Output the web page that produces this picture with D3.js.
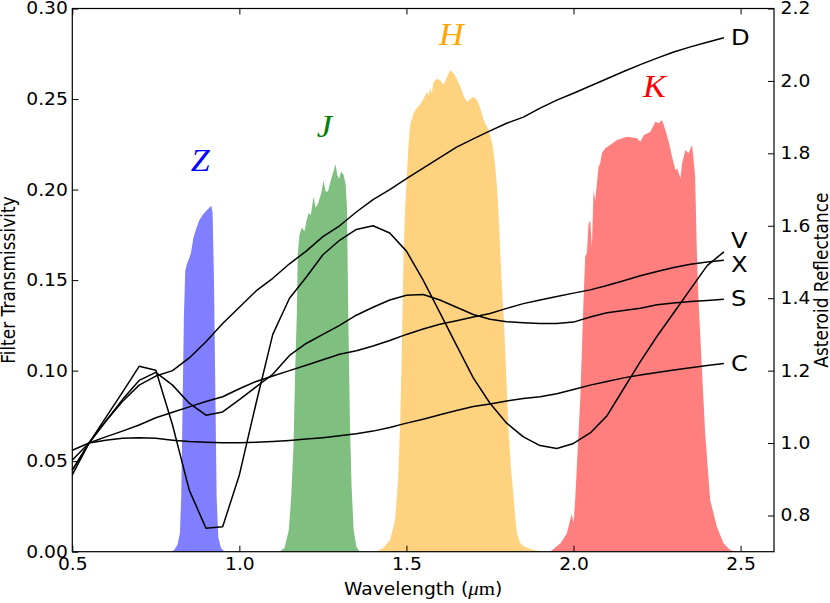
<!DOCTYPE html>
<html>
<head>
<meta charset="utf-8">
<script src="https://cdn.jsdelivr.net/npm/d3@7"></script>
<style>
  html, body { margin: 0; padding: 0; background: #fff; }
  #chart { width: 830px; height: 603px; }
  text { font-family: "DejaVu Sans", sans-serif; fill: #000; }
</style>
</head>
<body>
<div id="chart"></div>
<script>
// wavelength grid of the asteroid spectra (micron)
const wavelength = [0.50, 0.55, 0.60, 0.65, 0.70, 0.75, 0.80, 0.85, 0.90, 0.95,
  1.00, 1.05, 1.10, 1.15, 1.20, 1.25, 1.30, 1.35, 1.40, 1.45,
  1.50, 1.55, 1.60, 1.65, 1.70, 1.75, 1.80, 1.85, 1.90, 1.95,
  2.00, 2.05, 2.10, 2.15, 2.20, 2.25, 2.30, 2.35, 2.40, 2.45];

// reflectance of each taxonomic type, normalised near 0.55 micron
const reflD = [0.925, 1.00, 1.06, 1.115, 1.16, 1.185, 1.20, 1.235, 1.28, 1.33,
  1.375, 1.42, 1.455, 1.495, 1.53, 1.57, 1.60, 1.638, 1.672, 1.70,
  1.73, 1.759, 1.788, 1.817, 1.84, 1.862, 1.883, 1.90, 1.925, 1.947,
  1.966, 1.986, 2.006, 2.026, 2.045, 2.063, 2.08, 2.094, 2.107, 2.119];
const reflV = [0.912, 1.00, 1.07, 1.14, 1.212, 1.201, 1.05, 0.87, 0.765, 0.769,
  0.912, 1.11, 1.30, 1.40, 1.458, 1.52, 1.56, 1.59, 1.60, 1.58,
  1.53, 1.45, 1.36, 1.27, 1.18, 1.11, 1.055, 1.017, 0.993, 0.985,
  0.999, 1.028, 1.075, 1.15, 1.225, 1.295, 1.36, 1.425, 1.49, 1.528];
const reflX = [0.953, 1.00, 1.017, 1.033, 1.05, 1.07, 1.085, 1.10, 1.115, 1.128,
  1.15, 1.17, 1.185, 1.20, 1.215, 1.23, 1.245, 1.255, 1.268, 1.283,
  1.30, 1.315, 1.328, 1.338, 1.348, 1.358, 1.372, 1.385, 1.395, 1.405,
  1.414, 1.423, 1.435, 1.448, 1.462, 1.474, 1.485, 1.494, 1.50, 1.505];
const reflS = [0.925, 1.00, 1.06, 1.12, 1.173, 1.195, 1.16, 1.11, 1.077, 1.086,
  1.12, 1.155, 1.19, 1.242, 1.275, 1.30, 1.325, 1.353, 1.375, 1.395,
  1.408, 1.41, 1.395, 1.375, 1.355, 1.342, 1.335, 1.332, 1.330, 1.330,
  1.334, 1.348, 1.36, 1.366, 1.372, 1.382, 1.387, 1.391, 1.394, 1.397];
const reflC = [0.98, 1.00, 1.008, 1.013, 1.015, 1.013, 1.008, 1.004, 1.002, 1.001,
  1.001, 1.002, 1.004, 1.007, 1.011, 1.015, 1.02, 1.026, 1.033, 1.043,
  1.055, 1.066, 1.078, 1.09, 1.101, 1.108, 1.116, 1.123, 1.128, 1.136,
  1.148, 1.16, 1.17, 1.18, 1.188, 1.195, 1.202, 1.208, 1.214, 1.22];

const taxonNames = ["D", "V", "X", "S", "C"];
const taxonRefl = [reflD, reflV, reflX, reflS, reflC];

// filter transmission curves: [wavelength, transmissivity]
const filterZ = [[0.795, 0], [0.805, 0.001], [0.815, 0.004], [0.822, 0.010], [0.826, 0.03],
  [0.830, 0.08], [0.834, 0.13], [0.838, 0.155], [0.843, 0.159], [0.850, 0.162],
  [0.855, 0.165], [0.862, 0.173], [0.870, 0.178], [0.880, 0.183], [0.890, 0.186],
  [0.900, 0.188], [0.910, 0.190], [0.916, 0.191], [0.920, 0.187], [0.924, 0.15],
  [0.928, 0.09], [0.932, 0.03], [0.937, 0.008], [0.945, 0.002], [0.955, 0]];
const filterJ = [[1.120, 0], [1.135, 0.002], [1.148, 0.012], [1.155, 0.03], [1.162, 0.058],
  [1.167, 0.10], [1.172, 0.132], [1.175, 0.165], [1.180, 0.175], [1.187, 0.179],
  [1.195, 0.177], [1.200, 0.182], [1.207, 0.187], [1.214, 0.186], [1.222, 0.196],
  [1.228, 0.190], [1.235, 0.192], [1.245, 0.198], [1.252, 0.205], [1.258, 0.199],
  [1.265, 0.199], [1.275, 0.206], [1.283, 0.211], [1.288, 0.214], [1.293, 0.208],
  [1.298, 0.206], [1.305, 0.210], [1.312, 0.208], [1.318, 0.203], [1.322, 0.19],
  [1.326, 0.13], [1.331, 0.07], [1.336, 0.035], [1.342, 0.012], [1.350, 0.003], [1.360, 0]];
const filterH = [[1.410, 0], [1.430, 0.002], [1.451, 0.0065], [1.466, 0.0175], [1.475, 0.04],
  [1.481, 0.069], [1.486, 0.11], [1.491, 0.161], [1.496, 0.19], [1.501, 0.207],
  [1.506, 0.224], [1.511, 0.236], [1.521, 0.242], [1.531, 0.245], [1.541, 0.247],
  [1.551, 0.250], [1.561, 0.254], [1.566, 0.252], [1.571, 0.256], [1.576, 0.253],
  [1.581, 0.2596], [1.591, 0.261], [1.601, 0.2605], [1.611, 0.2577], [1.621, 0.262],
  [1.631, 0.266], [1.641, 0.2642], [1.651, 0.261], [1.661, 0.2568], [1.671, 0.252],
  [1.681, 0.2485], [1.691, 0.250], [1.701, 0.2513], [1.709, 0.250], [1.716, 0.2476],
  [1.724, 0.243], [1.731, 0.2384], [1.746, 0.2329], [1.756, 0.226], [1.761, 0.220],
  [1.766, 0.212], [1.771, 0.2016], [1.776, 0.185], [1.781, 0.1648], [1.786, 0.145],
  [1.791, 0.13], [1.796, 0.11], [1.805, 0.069], [1.812, 0.048], [1.820, 0.032],
  [1.826, 0.018], [1.831, 0.010], [1.840, 0.005], [1.850, 0.003], [1.880, 0.001], [1.910, 0]];
const filterK = [[1.930, 0], [1.961, 0.0046], [1.980, 0.010], [1.990, 0.0175], [1.995, 0.021],
  [2.000, 0.0157], [2.005, 0.0285], [2.010, 0.047], [2.020, 0.0838], [2.030, 0.139],
  [2.035, 0.163], [2.040, 0.165], [2.045, 0.181], [2.050, 0.183], [2.055, 0.168],
  [2.060, 0.1998], [2.065, 0.194], [2.070, 0.2035], [2.075, 0.2126], [2.080, 0.2145],
  [2.085, 0.220], [2.095, 0.2228], [2.110, 0.2246], [2.130, 0.2274], [2.160, 0.2292],
  [2.190, 0.2283], [2.200, 0.2264], [2.210, 0.230], [2.230, 0.232], [2.245, 0.2375],
  [2.255, 0.2366], [2.265, 0.2384], [2.275, 0.2329], [2.285, 0.2264], [2.295, 0.2181],
  [2.305, 0.2108], [2.310, 0.2117], [2.320, 0.2062], [2.325, 0.2145], [2.335, 0.2218],
  [2.344, 0.220], [2.355, 0.2246], [2.359, 0.2173], [2.364, 0.2071], [2.369, 0.1666],
  [2.374, 0.139], [2.384, 0.1022], [2.394, 0.0654], [2.409, 0.0286], [2.429, 0.0138],
  [2.449, 0.0046], [2.469, 0.001], [2.489, 0]];

const filterNames = ["Z", "J", "H", "K"];
const filterCurves = [filterZ, filterJ, filterH, filterK];
// where each band name sits: [wavelength, transmissivity] of its baseline
const filterLabelAt = [[0.883, 0.210], [1.254, 0.229], [1.634, 0.280], [2.242, 0.251]];
const filterColors = ["#0000ff", "#008000", "#ffa500", "#ff0000"];

const xTicks = [0.5, 1.0, 1.5, 2.0, 2.5];
const leftTicks = [0, 0.05, 0.10, 0.15, 0.20, 0.25, 0.30];
const rightTicks = [0.8, 1.0, 1.2, 1.4, 1.6, 1.8, 2.0, 2.2];

// layout
const W = 830, H = 603;
const margin = ({ top: 8.5, right: 56, bottom: 51.3, left: 72.3 });
const width = W - margin.left - margin.right;
const height = H - margin.top - margin.bottom;
const stretch = "scale(1.1,1)"; // text in the picture is a little wide

const svg = d3.select("#chart").append("svg")
  .attr("width", W)
  .attr("height", H);

const g = svg.append("g").attr("transform", "translate(" + margin.left + "," + margin.top + ")");

const x = d3.scaleLinear().domain([0.5, 2.6]).range([0, width]);
const yT = d3.scaleLinear().domain([0, 0.30]).range([height, 0]);
const yR = d3.scaleLinear().domain([0.7, 2.2]).range([height, 0]);

// filter bands
const area = d3.area()
  .x(function (d) { return x(d[0]); })
  .y0(yT(0))
  .y1(function (d) { return yT(d[1]); });

g.append("g")
  .selectAll("path")
  .data(filterCurves)
  .enter().append("path")
  .attr("d", area)
  .attr("fill", function (d, i) { return filterColors[i]; })
  .attr("fill-opacity", 0.5);

// filter names
g.append("g")
  .selectAll("text")
  .data(filterNames)
  .enter().append("text")
  .attr("transform", function (d, i) {
    const p = filterLabelAt[i];
    return "translate(" + x(p[0]) + "," + yT(p[1]) + ")" + stretch;
  })
  .attr("text-anchor", "middle")
  .style("font-family", "'Liberation Serif', serif")
  .style("font-style", "italic")
  .style("font-size", "31px")
  .style("fill", function (d, i) { return filterColors[i]; })
  .text(function (d) { return d; });

// asteroid spectra
const line = d3.line()
  .x(function (d, i) { return x(wavelength[i]); })
  .y(function (d) { return yR(d); });

g.append("g")
  .selectAll("path")
  .data(taxonRefl)
  .enter().append("path")
  .attr("d", line)
  .attr("fill", "none")
  .attr("stroke", "#000")
  .attr("stroke-width", 1.5)
  .attr("stroke-linejoin", "round");

// V and X end close together, so their letters are pushed apart
const labelShift = { D: -1, V: -12, X: 4, S: -1, C: 0 };
const lastW = wavelength[wavelength.length - 1];
g.append("g")
  .selectAll("text")
  .data(taxonNames)
  .enter().append("text")
  .attr("transform", function (d, i) {
    const r = taxonRefl[i][taxonRefl[i].length - 1];
    return "translate(" + (x(lastW) + 7) + "," + (yR(r) + labelShift[d]) + ")" + stretch;
  })
  .attr("dy", "0.36em")
  .style("font-size", "22px")
  .text(function (d) { return d; });

// axes, ticks pointing inward like the original
const fmt1 = d3.format(".1f"), fmt2 = d3.format(".2f");

const xAxis = g.append("g")
  .attr("transform", "translate(0," + height + ")")
  .call(d3.axisBottom(x).tickValues(xTicks).tickFormat(fmt1).tickSizeInner(-6).tickSizeOuter(0).tickPadding(6.5));

g.append("g")
  .call(d3.axisTop(x).tickValues(xTicks).tickFormat("").tickSizeInner(-6).tickSizeOuter(0));

const leftAxis = g.append("g")
  .call(d3.axisLeft(yT).tickValues(leftTicks).tickFormat(fmt2).tickSizeInner(-6).tickSizeOuter(0).tickPadding(4));

const rightAxis = g.append("g")
  .attr("transform", "translate(" + width + ",0)")
  .call(d3.axisRight(yR).tickValues(rightTicks).tickFormat(fmt1).tickSizeInner(-6).tickSizeOuter(0).tickPadding(6));

g.selectAll(".domain").remove();
g.selectAll(".tick line").attr("stroke", "#000").attr("stroke-width", 1);
[xAxis, leftAxis, rightAxis].forEach(function (a) {
  a.selectAll(".tick text")
    .style("font-family", "'DejaVu Sans', sans-serif")
    .style("font-size", "17px")
    .attr("fill", "#000")
    .attr("transform", stretch);
});

// frame
g.append("rect")
  .attr("width", width)
  .attr("height", height)
  .attr("fill", "none")
  .attr("stroke", "#000")
  .attr("stroke-width", 1.2);

// axis titles
const xTitle = svg.append("text")
  .attr("transform", "translate(" + (margin.left + width / 2) + ",595)" + stretch)
  .attr("text-anchor", "middle")
  .style("font-size", "17px");
xTitle.append("tspan").text("Wavelength (");
xTitle.append("tspan").style("font-family", "'Liberation Serif', serif").style("font-style", "italic").style("font-size", "19px").text("\u03bc");
xTitle.append("tspan").style("font-family", "'Liberation Serif', serif").style("font-size", "19px").text("m");
xTitle.append("tspan").text(")");

svg.append("text")
  .attr("transform", "translate(15," + (margin.top + height / 2) + ") rotate(-90) scale(1,1.1)")
  .attr("text-anchor", "middle")
  .style("font-size", "17px")
  .text("Filter Transmissivity");

svg.append("text")
  .attr("transform", "translate(828," + (margin.top + height / 2) + ") rotate(-90) scale(1,1.1)")
  .attr("text-anchor", "middle")
  .style("font-size", "17px")
  .text("Asteroid Reflectance");
</script>
</body>
</html>
